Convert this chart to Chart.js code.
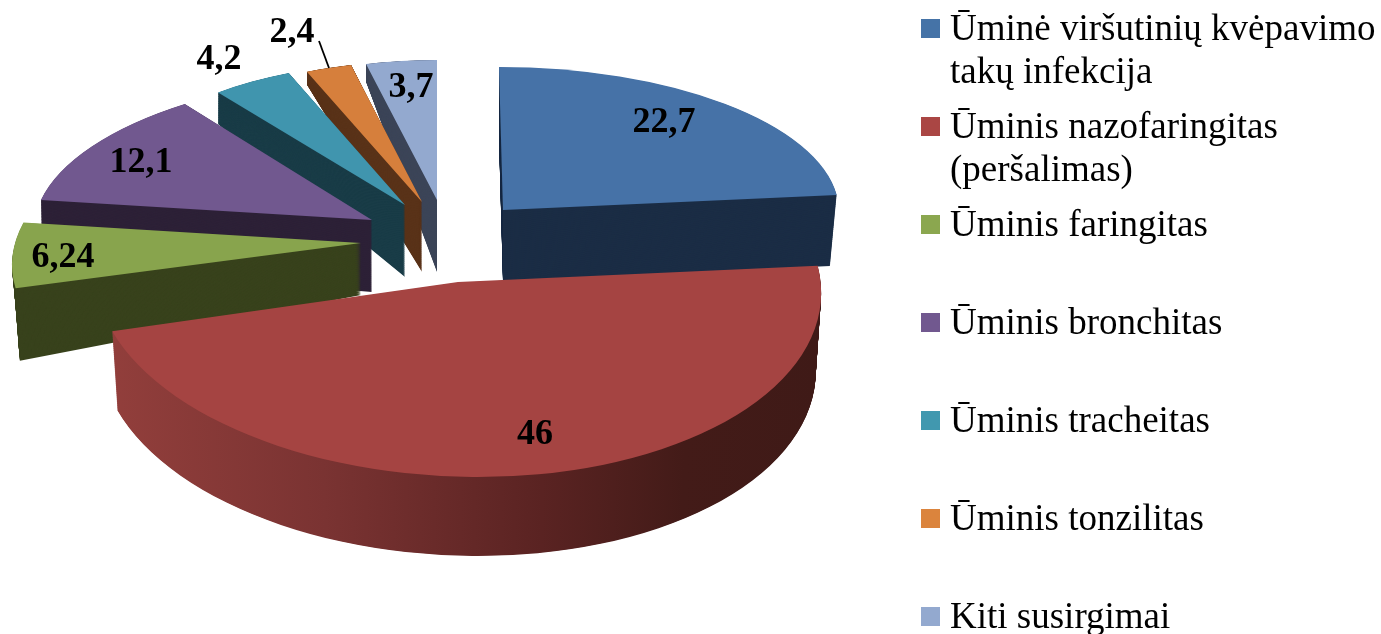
<!DOCTYPE html>
<html>
<head>
<meta charset="utf-8">
<style>
  html, body { margin: 0; padding: 0; background: #fff; overflow: hidden; }
  canvas { display: block; }
</style>
<script src="https://cdn.jsdelivr.net/npm/chart.js@4/dist/chart.umd.min.js"></script>
</head>
<body>
<canvas id="pieChart" width="1381" height="634"></canvas>
<script>
const categories = [
  ['Ūminė viršutinių kvėpavimo', 'takų infekcija'],
  ['Ūminis nazofaringitas', '(peršalimas)'],
  ['Ūminis faringitas'],
  ['Ūminis bronchitas'],
  ['Ūminis tracheitas'],
  ['Ūminis tonzilitas'],
  ['Kiti susirgimai']
]
const values = [22.7, 46, 6.24, 12.1, 4.2, 2.4, 3.7]
const topColors = ['#4672a7', '#a54442', '#88a44d', '#71588f', '#4095ae', '#d67f3c', '#93a9cf']
const wallColors = ['#1b2d45', null, '#38421c', '#2d2137', '#193c47', '#593218', '#3c4558']
const legendColors = ['#4573a7', '#aa4644', '#8ba74f', '#71588f', '#4198af', '#db843d', '#93a9cf']

// back slices first, the big red one last
const drawOrder = [6, 5, 4, 3, 2, 0, 1]

// how each exploded slice is placed on the page: apex, squashed radii, skew/tilt, side wall
const sliceView = [
  { ax: 503, ay: 210, rx: 336, ry: 143, skew: 0.028, tilt: 0, depth: 71, wallSx: 0.98, wallSy: 1, label: [161, -90] },
  { ax: 458, ay: 282, rx: 363, ry: 195, skew: 0.06, tilt: 0.012, depth: 79, wallSx: 0.985, wallSy: 1, label: [77, 150] },
  { ax: 361, ay: 243, rx: 346, ry: 165, skew: -0.28, tilt: 0, depth: 52, wallSx: 0.97, wallSy: 1.45, label: [-298, 12] },
  { ax: 372, ay: 220, rx: 337, ry: 146, skew: -0.18, tilt: 0.0055, depth: 72, wallSx: 1, wallSy: 1.4, label: [-231, -60] },
  { ax: 405, ay: 205, rx: 303, ry: 143, skew: 0, tilt: 0, depth: 72, wallSx: 1, wallSy: 1.36, label: [-186, -148] },
  { ax: 422, ay: 202, rx: 300, ry: 141, skew: 0, tilt: 0, depth: 70, wallSx: 1, wallSy: 1.44, label: [-130, -172] },
  { ax: 437, ay: 200, rx: 300, ry: 140, skew: 0, tilt: 0, depth: 72, wallSx: 1, wallSy: 1.4, label: [-26, -115] }
]

function placeSlice(ctx, arc, view, t) {
  const r = arc.outerRadius
  const sx = 1 + t * (view.wallSx - 1)
  const sy = 1 + t * (view.wallSy - 1)
  const a = view.rx * sx / r
  const d = view.ry * sy / r
  ctx.transform(a, view.tilt * a, view.skew * d, d, view.ax, view.ay + t * view.depth)
  ctx.translate(-arc.x, -arc.y)
}

function redWall(ctx, arc) {
  const g = ctx.createLinearGradient(arc.x - arc.outerRadius, 0, arc.x + arc.outerRadius, 0)
  g.addColorStop(0, '#933f3c')
  g.addColorStop(0.3, '#7a3332')
  g.addColorStop(0.6, '#5a2322')
  g.addColorStop(0.8, '#431b18')
  g.addColorStop(1, '#3f1a17')
  return g
}

const sliced3d = {
  id: 'sliced3d',
  beforeDatasetDraw(chart, args) {
    const ctx = chart.ctx
    const arcs = args.meta.data
    drawOrder.forEach(i => {
      const arc = arcs[i]
      const view = sliceView[i]
      const ghost = Object.create(arc)
      ghost.options = Object.create(arc.options)
      // side wall: the same arc stacked downwards, darker
      const steps = Math.ceil(view.depth * 1.5)
      for (let s = steps; s > 0; s--) {
        ctx.save()
        placeSlice(ctx, arc, view, s / steps)
        ghost.options.backgroundColor = wallColors[i] || redWall(ctx, arc)
        ghost.draw(ctx)
        ctx.restore()
      }
      ctx.save()
      placeSlice(ctx, arc, view, 0)
      arc.draw(ctx)
      ctx.restore()
    })
    return false
  },
  afterDraw(chart) {
    const ctx = chart.ctx
    ctx.save()
    ctx.fillStyle = '#000'
    ctx.font = 'bold 36px "Liberation Serif"'
    ctx.textAlign = 'center'
    ctx.textBaseline = 'middle'
    values.forEach((v, i) => {
      const view = sliceView[i]
      ctx.fillText(String(v).replace('.', ','), view.ax + view.label[0], view.ay + view.label[1] + 3)
    })
    // leader of the orange slice
    ctx.strokeStyle = '#000'
    ctx.lineWidth = 1.8
    ctx.beginPath()
    ctx.moveTo(sliceView[5].ax - 103, sliceView[5].ay - 161)
    ctx.lineTo(sliceView[5].ax - 93, sliceView[5].ay - 134)
    ctx.stroke()

    // legend, one row every 98px
    ctx.font = '37px "Liberation Serif"'
    ctx.textAlign = 'left'
    ctx.textBaseline = 'alphabetic'
    categories.forEach((lines, i) => {
      const top = 19 + i * 98
      ctx.fillStyle = legendColors[i]
      ctx.fillRect(921, top, 19, 19)
      ctx.fillStyle = '#000'
      lines.forEach((line, n) => ctx.fillText(line, 950, top + 21 + n * 43))
    })
    ctx.restore()
  }
}

new Chart(document.getElementById('pieChart'), {
  type: 'pie',
  data: {
    labels: categories.map(c => c.join(' ')),
    datasets: [{
      data: values,
      backgroundColor: topColors,
      borderWidth: 0
    }]
  },
  options: {
    responsive: false,
    animation: false,
    plugins: {
      legend: { display: false },
      tooltip: { enabled: false }
    }
  },
  plugins: [sliced3d]
})
</script>
</body>
</html>
